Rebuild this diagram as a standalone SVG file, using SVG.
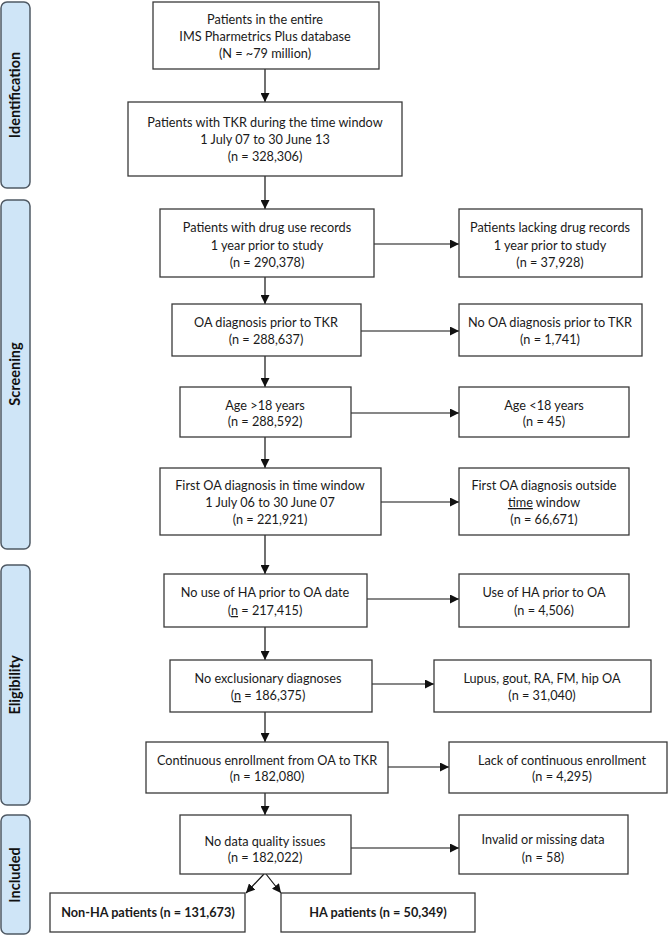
<svg xmlns="http://www.w3.org/2000/svg" width="668" height="936" viewBox="0 0 668 936">
<style>
.bar{fill:#cfe5f7;stroke:#4f5964;stroke-width:1.5}
.lbl{font-family:Lato,"Liberation Sans",sans-serif;font-size:14.5px;font-weight:bold;fill:#111;text-anchor:middle}
.box{fill:#fff;stroke:#3a3a3a;stroke-width:1.3}
.t{font-family:Lato,"Liberation Sans",sans-serif;font-size:12.7px;fill:#1a1a1a;text-anchor:middle}
.b{font-weight:bold}
.c{stroke:#111;stroke-width:1.2;fill:none;marker-end:url(#ah)}
.u{text-decoration:underline}
</style>
<defs>
<marker id="ah" markerUnits="userSpaceOnUse" markerWidth="9" markerHeight="9" refX="9" refY="4.5" orient="auto">
<path d="M0,0 L9,4.5 L0,9 z" fill="#111"/>
</marker>
</defs>
<rect width="668" height="936" fill="#fff"/>
<g id="phases">
<g id="phase-identification"><rect class="bar" x="1" y="2" width="29" height="186" rx="6"/><text class="lbl" transform="translate(20,95) rotate(-90)">Identification</text></g>
<g id="phase-screening"><rect class="bar" x="1" y="200" width="29" height="349" rx="6"/><text class="lbl" transform="translate(20,374) rotate(-90)">Screening</text></g>
<g id="phase-eligibility"><rect class="bar" x="1" y="565" width="29" height="240" rx="6"/><text class="lbl" transform="translate(20,685) rotate(-90)">Eligibility</text></g>
<g id="phase-included"><rect class="bar" x="1" y="815" width="29" height="119" rx="6"/><text class="lbl" transform="translate(20,875) rotate(-90)">Included</text></g>
</g>
<g id="connectors">
<line class="c" x1="265" y1="69" x2="265" y2="102"/>
<line class="c" x1="265" y1="176" x2="265" y2="209"/>
<line class="c" x1="265" y1="277" x2="265" y2="304"/>
<line class="c" x1="265" y1="356" x2="265" y2="387"/>
<line class="c" x1="265" y1="437" x2="265" y2="468"/>
<line class="c" x1="265" y1="535" x2="265" y2="574"/>
<line class="c" x1="265" y1="627" x2="265" y2="660"/>
<line class="c" x1="265" y1="712" x2="265" y2="742"/>
<line class="c" x1="265" y1="793" x2="265" y2="815"/>
<line class="c" x1="374" y1="244" x2="459" y2="244"/>
<line class="c" x1="361" y1="331" x2="459" y2="331"/>
<line class="c" x1="351" y1="413" x2="459" y2="413"/>
<line class="c" x1="381" y1="502" x2="459" y2="502"/>
<line class="c" x1="367" y1="599" x2="459" y2="599"/>
<line class="c" x1="372" y1="684" x2="434" y2="684"/>
<line class="c" x1="388" y1="767" x2="449" y2="767"/>
<line class="c" x1="351" y1="848" x2="459" y2="848"/>
<line class="c" x1="264" y1="874" x2="246" y2="893"/>
<line class="c" x1="266" y1="874" x2="281" y2="893"/>
</g>
<g id="n1"><rect class="box" x="153" y="2" width="226" height="67"/><text class="t" x="265" y="24">Patients in the entire</text><text class="t" x="265" y="41">IMS Pharmetrics Plus database</text><text class="t" x="265" y="58">(N = ~79 million)</text></g>
<g id="n2"><rect class="box" x="128" y="102" width="274" height="74"/><text class="t" x="265" y="127">Patients with TKR during the time window</text><text class="t" x="265" y="144">1 July 07 to 30 June 13</text><text class="t" x="265" y="161">(n = 328,306)</text></g>
<g id="n3"><rect class="box" x="160" y="209" width="214" height="68"/><text class="t" x="267" y="232">Patients with drug use records</text><text class="t" x="267" y="250">1 year prior to study</text><text class="t" x="267" y="267">(n = 290,378)</text></g>
<g id="r3"><rect class="box" x="459" y="209" width="183" height="68"/><text class="t" x="550" y="232">Patients lacking drug records</text><text class="t" x="550" y="250">1 year prior to study</text><text class="t" x="550" y="267">(n = 37,928)</text></g>
<g id="n4"><rect class="box" x="172" y="304" width="189" height="52"/><text class="t" x="266" y="327">OA diagnosis prior to TKR</text><text class="t" x="266" y="344">(n = 288,637)</text></g>
<g id="r4"><rect class="box" x="459" y="304" width="183" height="52"/><text class="t" x="550" y="327">No OA diagnosis prior to TKR</text><text class="t" x="550" y="344">(n = 1,741)</text></g>
<g id="n5"><rect class="box" x="180" y="387" width="171" height="50"/><text class="t" x="265" y="410">Age &gt;18 years</text><text class="t" x="265" y="426">(n = 288,592)</text></g>
<g id="r5"><rect class="box" x="459" y="387" width="170" height="50"/><text class="t" x="544" y="410">Age &lt;18 years</text><text class="t" x="544" y="426">(n = 45)</text></g>
<g id="n6"><rect class="box" x="160" y="468" width="221" height="67"/><text class="t" x="270" y="490">First OA diagnosis in time window</text><text class="t" x="270" y="507">1 July 06 to 30 June 07</text><text class="t" x="270" y="524">(n = 221,921)</text></g>
<g id="r6"><rect class="box" x="459" y="468" width="170" height="67"/><text class="t" x="544" y="490">First OA diagnosis outside</text><text class="t" x="544" y="507"><tspan class="u">time</tspan> window</text><text class="t" x="544" y="524">(n = 66,671)</text></g>
<g id="n7"><rect class="box" x="164" y="574" width="203" height="53"/><text class="t" x="265" y="597">No use of HA prior to OA date</text><text class="t" x="265" y="615">(<tspan class="u">n</tspan> = 217,415)</text></g>
<g id="r7"><rect class="box" x="459" y="574" width="170" height="53"/><text class="t" x="544" y="597">Use of HA prior to OA</text><text class="t" x="544" y="615">(n = 4,506)</text></g>
<g id="n8"><rect class="box" x="170" y="660" width="202" height="52"/><text class="t" x="268" y="683">No exclusionary diagnoses</text><text class="t" x="268" y="700">(<tspan class="u">n</tspan> = 186,375)</text></g>
<g id="r8"><rect class="box" x="434" y="660" width="217" height="52"/><text class="t" x="542" y="683">Lupus, gout, RA, FM, hip OA</text><text class="t" x="542" y="700">(n = 31,040)</text></g>
<g id="n9"><rect class="box" x="146" y="742" width="242" height="51"/><text class="t" x="267" y="765">Continuous enrollment from OA to TKR</text><text class="t" x="267" y="781">(n = 182,080)</text></g>
<g id="r9"><rect class="box" x="449" y="742" width="218" height="51"/><text class="t" x="562" y="765">Lack of continuous enrollment</text><text class="t" x="562" y="781">(n = 4,295)</text></g>
<g id="n10"><rect class="box" x="180" y="815" width="171" height="59"/><text class="t" x="265" y="846">No data quality issues</text><text class="t" x="265" y="862">(n = 182,022)</text></g>
<g id="r10"><rect class="box" x="459" y="815" width="169" height="59"/><text class="t" x="543" y="844">Invalid or missing data</text><text class="t" x="543" y="862">(n = 58)</text></g>
<g id="n11"><rect class="box" x="50" y="893" width="195" height="39"/><text class="t b" x="148" y="917">Non-HA patients (n = 131,673)</text></g>
<g id="n12"><rect class="box" x="281" y="893" width="194" height="39"/><text class="t b" x="378" y="917">HA patients (n = 50,349)</text></g>
</svg>
